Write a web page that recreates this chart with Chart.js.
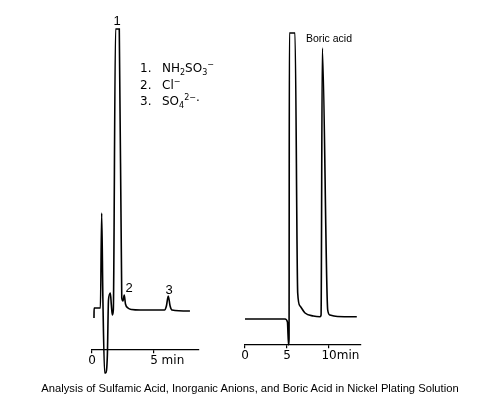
<!DOCTYPE html>
<html lang="en">
<head>
<meta charset="UTF-8" />
<title>Chromatogram</title>
<script src="https://cdn.jsdelivr.net/npm/chart.js"></script>
<style>
  body { margin: 0; background: #fff; }
  #page { position: relative; width: 500px; height: 400px; overflow: hidden; font-family: "Liberation Sans", Arial, sans-serif; color: #000; }
  canvas { position: absolute; left: 0; top: 0; }
  .lbl { position: absolute; transform: translate(-50%, -50%); white-space: nowrap; }
  .ion { position: absolute; left: 140px; font-family: "DejaVu Sans", sans-serif; font-size: 12px; white-space: nowrap; }
  .ion span.n { display: inline-block; width: 22px; }
  sub, sup { font-size: 8px; }
  #caption { position: absolute; left: 0; width: 500px; top: 382px; text-align: center; font-size: 11.2px; }
</style>
</head>
<body>
<div id="page">
  <canvas id="graficoEsq" width="500" height="400"></canvas>
  <canvas id="graficoDir" width="500" height="400"></canvas>

  <div class="lbl" style="left:117px; top:20px; font-size:13px;">1</div>
  <div class="ion" style="top:60px;"><span class="n">1.</span>NH<sub>2</sub>SO<sub>3</sub><sup>−</sup></div>
  <div class="ion" style="top:77px;"><span class="n">2.</span>Cl<sup>−</sup></div>
  <div class="ion" style="top:93px;"><span class="n">3.</span>SO<sub>4</sub><sup>2−</sup>·</div>
  <div class="lbl" style="left:129px; top:287px; font-size:13px;">2</div>
  <div class="lbl" style="left:169px; top:289px; font-size:13px;">3</div>
  <div class="lbl" style="left:329px; top:38px; font-size:10.5px;">Boric acid</div>

  <div id="caption">Analysis of Sulfamic Acid, Inorganic Anions, and Boric Acid in Nickel Plating Solution</div>
</div>
<script>
// esquerda: ânions (tempo em min, sinal relativo à linha de base)
const tempoEsq = [0.16, 0.17, 0.68, 0.78, 0.88, 1.02, 1.1, 1.24, 1.33, 1.48, 1.56, 1.64, 1.72, 1.9, 2.2, 2.4, 2.5, 2.6, 2.7, 2.9, 3.2, 3.9, 5.85, 6.0, 6.15, 6.3, 6.45, 7.9];
const sinalEsq = [-8, 2, 2, 97, 10, -63, -63, -45, 10, 17, 5, -5, 0, 281, 281, 12, 9, 15, 6, 2, 0.5, 0, 0, 4, 14, 4, 0, -1];
const ticksEsq = [0, 5];

// direita: ácido bórico
const tempoDir = [0, 4.76, 5.05, 5.18, 5.24, 5.28, 5.95, 6.27, 6.55, 7.14, 8.13, 8.93, 9.05, 9.2, 9.84, 10.1, 11.0, 13.3];
const sinalDir = [0, 0, -3, -26, -20, 286, 286, 26, 13, 6, 3, 2.3, 4, 271, 9, 4, 2.5, 2.3];
const ticksDir = [0, 5, 10];

const fonteTick = { family: "DejaVu Sans", size: 12 };

function unidadeMin(valor) {
  return {
    id: 'unidade',
    afterDraw(chart) {
      const sx = chart.scales.x;
      const ctx = chart.ctx;
      const pos = chart.options.scales.x.position.y;
      const py = chart.scales.y.getPixelForValue(pos) + 5;
      ctx.save();
      ctx.font = fonteTick.size + 'px ' + fonteTick.family;
      ctx.fillStyle = '#000';
      ctx.textBaseline = 'top';
      const px = sx.getPixelForValue(valor);
      const w = ctx.measureText(String(valor)).width;
      ctx.fillText(valor === 10 ? 'min' : ' min', px + w / 2, py);
      ctx.restore();
    }
  };
}

function grafico(id, tempo, sinal, ticks, xmax, ymin, ymax, eixo, pad) {
  const pontos = [];
  for (let i = 0; i < tempo.length; i++) {
    pontos.push({ x: tempo[i], y: sinal[i] });
  }
  new Chart(document.getElementById(id), {
    type: 'line',
    data: {
      datasets: [{
        data: pontos,
        borderColor: '#000',
        borderWidth: 1.6,
        pointRadius: 0,
        fill: false,
        cubicInterpolationMode: 'monotone'
      }]
    },
    options: {
      responsive: false,
      animation: false,
      layout: { padding: pad },
      plugins: { legend: { display: false }, tooltip: { enabled: false } },
      scales: {
        x: {
          type: 'linear',
          min: 0,
          max: xmax,
          position: { y: eixo },
          afterBuildTicks: (s) => { s.ticks = ticks.map(v => ({ value: v })); },
          border: { display: true, color: '#000', width: 1.3 },
          grid: { display: true, drawOnChartArea: false, drawTicks: true, tickLength: 3, color: '#000', lineWidth: 1.2 },
          ticks: { color: '#000', font: fonteTick, padding: 1, maxRotation: 0, callback: (v) => String(v) }
        },
        y: { display: false, min: ymin, max: ymax }
      }
    },
    plugins: [unidadeMin(ticks[ticks.length - 1])]
  });
}

grafico('graficoEsq', tempoEsq, sinalEsq, ticksEsq, 8.63, -70, 290, -40, { left: 92, right: 301, top: 20, bottom: 20 });
grafico('graficoDir', tempoDir, sinalDir, ticksDir, 13.8, -61, 299, -26, { left: 245, right: 139, top: 20, bottom: 20 });
</script>
</body>
</html>
